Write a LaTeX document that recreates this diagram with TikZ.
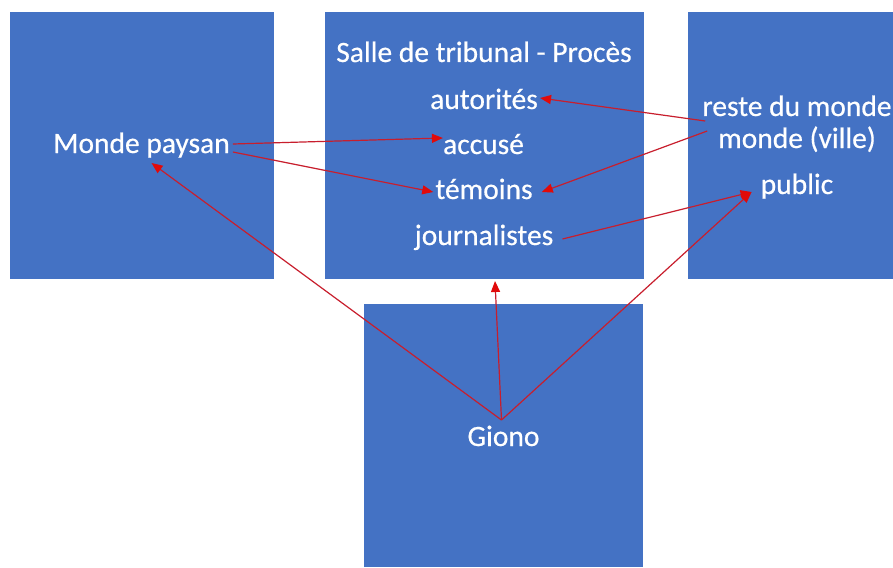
\documentclass[tikz,border=0pt]{standalone}
\usepackage{fontspec}
\setmainfont{Carlito}[FakeBold=0.5]
\usetikzlibrary{arrows.meta}
\definecolor{boxblue}{HTML}{4472C4}
\definecolor{linered}{RGB}{200,30,45}
\definecolor{headred}{RGB}{225,10,10}
\begin{document}
\begin{tikzpicture}[x=1pt,y=-1pt,
  panel/.style={fill=boxblue,draw=none,inner sep=0pt,outer sep=0pt},
  lbl/.style={text=white,inner sep=0pt,anchor=base,font=\fontsize{29.5}{35}\selectfont},
  arr/.style={draw=linered,line width=1.2pt,-{Triangle[length=11pt,width=9pt,color=headred]}}]
\useasboundingbox[fill=white] (0,0) rectangle (893,567);
% panels
\node[panel,minimum width=264pt,minimum height=267pt] (leftbox) at (142,145.5) {};
\node[panel,minimum width=319pt,minimum height=267pt] (midbox) at (484.5,145.5) {};
\node[panel,minimum width=205pt,minimum height=267pt] (rightbox) at (790.5,145.5) {};
\node[panel,minimum width=279pt,minimum height=263pt] (botbox) at (503.5,435.5) {};
% labels
\node[lbl] (mp) at (141.5,153) {Monde paysan};
\node[lbl] (salle) at (484,62) {Salle de tribunal - Procès};
\node[lbl] (autorites) at (484,109) {autorités};
\node[lbl] (accuse) at (483.5,154) {accusé};
\node[lbl] (temoins) at (484,199) {témoins};
\node[lbl] (journ) at (484,245) {journalistes};
\node[lbl] (reste) at (797,116) {reste du monde};
\node[lbl] (ville) at (797,148) {monde (ville)};
\node[lbl] (public) at (797,194) {public};
\node[lbl] (giono) at (503.5,446) {Giono};
% connector points
\coordinate (gp) at ([xshift=-2pt,yshift=26pt]giono.base);
\coordinate (pubp) at ([xshift=-9pt,yshift=2pt]public.base west);
% arrows
\draw[arr] ([xshift=3pt,yshift=9pt]mp.base east) -- ([yshift=16pt]accuse.base west);
\draw[arr] ([xshift=3pt,yshift=1pt]mp.base east) -- ([xshift=-2pt,yshift=7pt]temoins.base west);
\draw[arr] ([xshift=3pt,yshift=-5pt]reste.base west) -- ([xshift=2pt,yshift=11pt]autorites.base east);
\draw[arr] ([xshift=5pt,yshift=-15pt]reste.base west) -- ([xshift=9pt,yshift=7pt]temoins.base east);
\draw[arr] ([xshift=9pt,yshift=6pt]journ.base east) -- (pubp);
\draw[arr] (gp) -- ([xshift=10pt,yshift=-10pt]mp.base);
\draw[arr] (gp) -- ([xshift=10.5pt,yshift=-2pt]midbox.south);
\draw[arr] (gp) -- (pubp);
\end{tikzpicture}
\end{document}
